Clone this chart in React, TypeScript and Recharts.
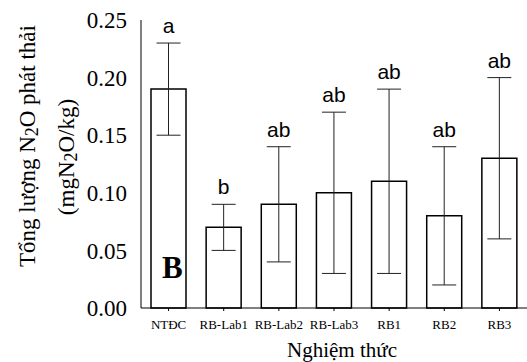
import React from 'react';
import { BarChart, Bar, XAxis, YAxis, ErrorBar, LabelList } from 'recharts';

const categories = ['NTĐC', 'RB-Lab1', 'RB-Lab2', 'RB-Lab3', 'RB1', 'RB2', 'RB3'];
const means = [0.19, 0.07, 0.09, 0.1, 0.11, 0.08, 0.13];
const errors = [0.04, 0.02, 0.05, 0.07, 0.08, 0.06, 0.07];
const letters = ['a', 'b', 'ab', 'ab', 'ab', 'ab', 'ab'];
const yTicks = [0, 0.05, 0.1, 0.15, 0.2, 0.25];

const data = categories.map((name, i) => ({
  name,
  value: means[i],
  err: errors[i],
}));

const serif = '"Liberation Serif", "Times New Roman", serif';
const sans = '"Liberation Sans", Arial, sans-serif';

// letter sits just above the top of the error bar
const LetterLabel = (props: any) => {
  const { x, y, width, height, index } = props;
  const pxPerUnit = height / means[index];
  const top = y + height - (means[index] + errors[index]) * pxPerUnit;
  return (
    <text x={x + width / 2} y={top - 10} textAnchor="middle" fontFamily={sans} fontSize={21} fill="#000">
      {letters[index]}
    </text>
  );
};

const YLabel = () => (
  <g fontFamily={serif} fontSize={23} fill="#000">
    <text transform="translate(27,146) rotate(-90)" textAnchor="middle" dominantBaseline="central">
      Tổng lượng N<tspan fontSize={18} dy={5}>2</tspan>
      <tspan dy={-5}>O phát thải</tspan>
    </text>
    <text transform="translate(66,157) rotate(-90)" textAnchor="middle" dominantBaseline="central">
      (mgN<tspan fontSize={18} dy={5}>2</tspan>
      <tspan dy={-5}>O/kg)</tspan>
    </text>
  </g>
);

export default function App() {
  return (
    <div style={{ position: 'absolute', left: 0, top: 0, width: 527, height: 362, background: '#fff' }}>
      <BarChart width={527} height={362} data={data} margin={{ top: 20, right: 0, left: 0, bottom: 0 }}>
        <XAxis
          dataKey="name"
          height={54}
          stroke="#000"
          tickSize={3}
          tickMargin={9}
          interval={0}
          tick={{ fontFamily: serif, fontSize: 13, fill: '#000' }}
        />
        <YAxis
          width={141}
          domain={[0, 0.25]}
          ticks={yTicks}
          stroke="#000"
          tickLine={false}
          tickSize={0}
          tickMargin={14}
          tickFormatter={(v: number) => v.toFixed(2)}
          tick={{ fontFamily: serif, fontSize: 23, fill: '#000' }}
          label={<YLabel />}
        />
        <Bar dataKey="value" barSize={35} fill="#fff" stroke="#000" strokeWidth={1.5} isAnimationActive={false}>
          <ErrorBar dataKey="err" width={12} stroke="#222" strokeWidth={1} direction="y" isAnimationActive={false} />
          <LabelList dataKey="value" content={<LetterLabel />} />
        </Bar>
      </BarChart>
      <div
        style={{
          position: 'absolute',
          left: 162,
          top: 250,
          fontFamily: serif,
          fontWeight: 'bold',
          fontSize: 31,
          lineHeight: '36px',
          color: '#000',
        }}
      >
        B
      </div>
      <div
        style={{
          position: 'absolute',
          left: 0,
          width: 527,
          paddingLeft: 157,
          boxSizing: 'border-box',
          top: 338,
          textAlign: 'center',
          fontFamily: serif,
          fontSize: 21,
          lineHeight: '24px',
          color: '#000',
        }}
      >
        Nghiệm thức
      </div>
    </div>
  );
}
